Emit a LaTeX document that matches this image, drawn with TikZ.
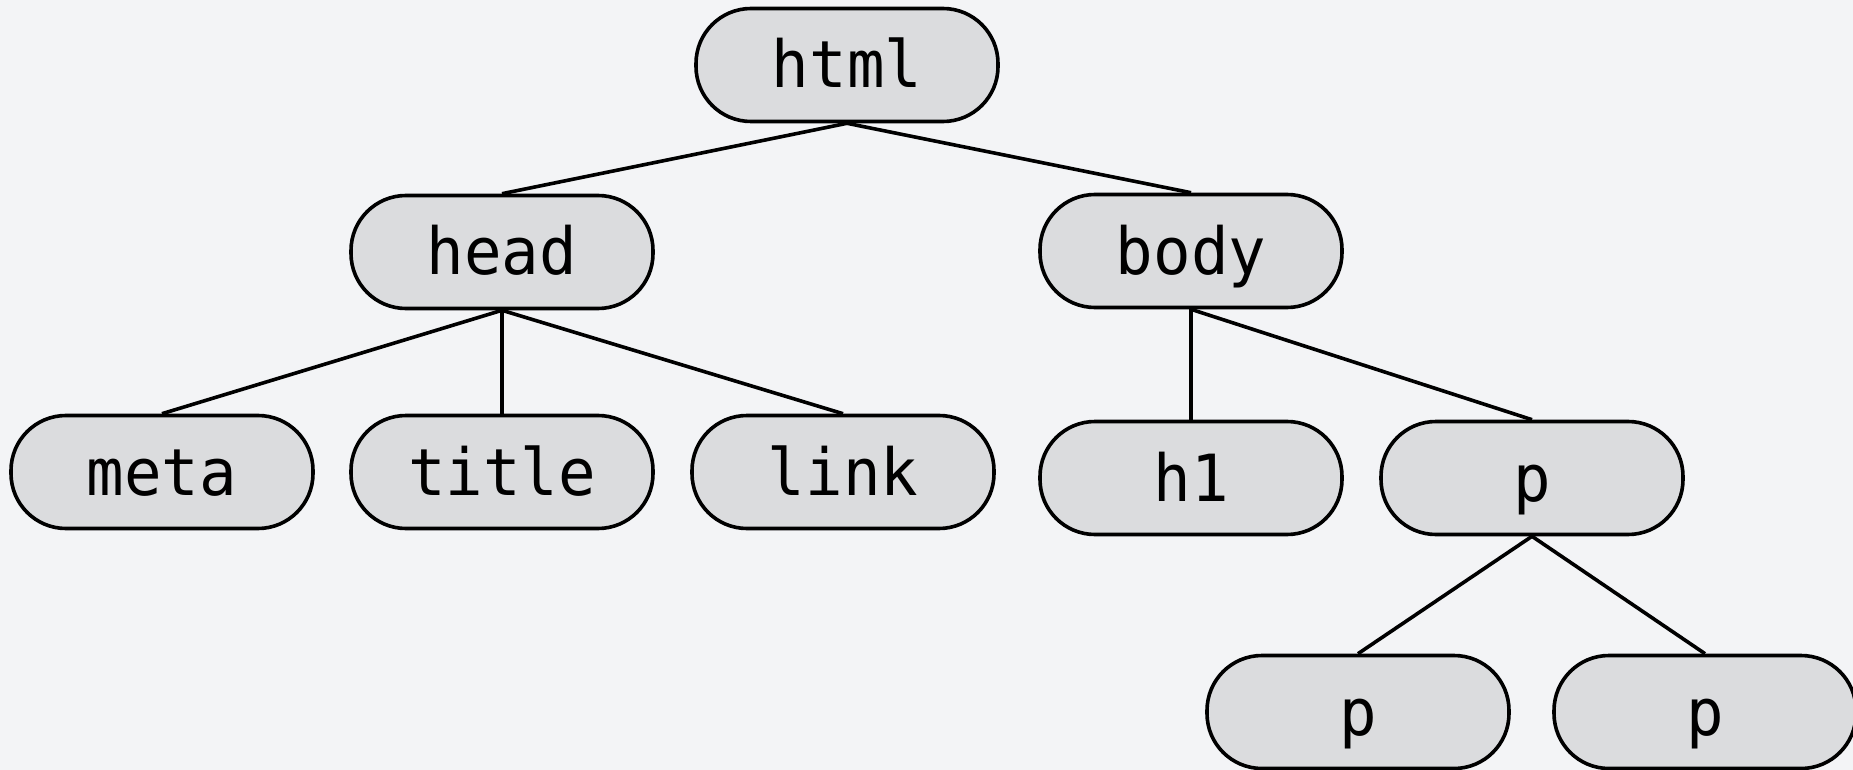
\documentclass[tikz,border=0pt]{standalone}
\usepackage{fontspec}
\setmonofont{DejaVu Sans Mono}[FakeStretch=0.96]
\definecolor{bgcol}{HTML}{F3F4F6}
\definecolor{nodecol}{HTML}{DBDCDE}
\begin{document}
\begin{tikzpicture}[x=1pt,y=-1pt,line width=3.6pt,
  every node/.style={draw,fill=nodecol,rounded corners=55pt,
    minimum width=302pt,minimum height=113pt,inner sep=0pt,
    text height=60pt,text depth=14pt,
    font=\ttfamily\fontsize{65}{78}\selectfont}
]
    \fill[bgcol] (0,0) rectangle (1853,770);
    \useasboundingbox (0,0) rectangle (1853,770);
    \node (html) at (847,65) {html};
    \node (head) at (502,252) {head};
    \node (body) at (1191,251) {body};
    \node (meta) at (162,472) {meta};
    \node (title) at (502,472) {title};
    \node (link) at (843,472) {link};
    \node (h1) at (1191,478) {h1};
    \node (p) at (1532,478) {p};
    \node (pa) at (1358,712) {p};
    \node (pb) at (1705,712) {p};
    \draw (html.south) -- (head.north);
    \draw (html.south) -- (body.north);
    \draw (head.south) -- (meta.north);
    \draw (head.south) -- (title.north);
    \draw (head.south) -- (link.north);
    \draw (body.south) -- (h1.north);
    \draw (body.south) -- (p.north);
    \draw (p.south) -- (pa.north);
    \draw (p.south) -- (pb.north);
\end{tikzpicture}
\end{document}
